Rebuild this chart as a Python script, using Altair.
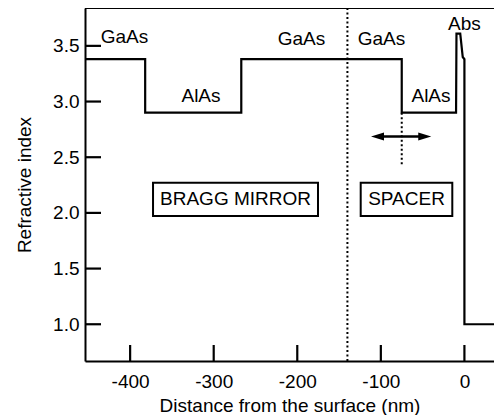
import altair as alt
import pandas as pd

# refractive-index profile (nm, n)
profile_x = [-454, -382, -382, -267, -267, -75, -75, -10, -9.5, -5, -2, 0, 0, 45]
profile_n = [3.38, 3.38, 2.90, 2.90, 3.38, 3.38, 2.90, 2.90, 3.61, 3.61, 3.40, 3.38, 1.00, 1.00]

x_ticks = [-400, -300, -200, -100, 0]
y_ticks = [1.0, 1.5, 2.0, 2.5, 3.0, 3.5]

label_text = ["GaAs", "AlAs", "GaAs", "GaAs", "AlAs", "Abs"]
label_x = [-406.7, -315.2, -194.9, -99.2, -40.0, 0.1]
label_y = [3.580, 3.050, 3.562, 3.562, 3.050, 3.696]

box_text = ["BRAGG MIRROR", "SPACER"]
box_x1 = [-372.6, -124.1]
box_x2 = [-175.2, -14.5]
box_y1 = [1.972, 1.972]
box_y2 = [2.271, 2.271]

interface_x = [-140]
spacer_mark_x = [-75]
spacer_mark_y1 = [2.90]
spacer_mark_y2 = [2.425]
arrow_x1 = [-104]
arrow_x2 = [-47]
arrow_y = [2.686]
head_x = [-104.0, -47.5]
head_shape = ["M -1 0 L 1 -0.62 L 1 0.62 Z", "M 1 0 L -1 -0.62 L -1 0.62 Z"]

FONT = "Liberation Sans"
FS = 19
W, H = 409, 353

xs = alt.Scale(domain=[-454, 35.4], nice=False, zero=False)
ys = alt.Scale(domain=[0.67, 3.84], nice=False, zero=False)

prof = pd.DataFrame({"x": profile_x, "n": profile_n, "o": list(range(len(profile_x)))})

line = alt.Chart(prof).mark_line(color="black", strokeWidth=2.2, interpolate="linear", clip=True).encode(
    x=alt.X("x:Q", scale=xs, title="Distance from the surface (nm)",
            axis=alt.Axis(values=x_ticks, ticks=False, grid=False, domainColor="black",
                          domainWidth=2, labelFont=FONT, labelFontSize=FS, labelColor="black",
                          labelPadding=11, labelExpr="datum.value + ''", titleFont=FONT,
                          titleFontSize=FS, titleFontWeight="normal", titleColor="black",
                          titlePadding=5, labelFlush=False)),
    y=alt.Y("n:Q", scale=ys, title="Refractive index",
            axis=alt.Axis(values=y_ticks, ticks=False, grid=False, domainColor="black",
                          domainWidth=2, labelFont=FONT, labelFontSize=FS, labelColor="black",
                          labelPadding=6, format=".1f", titleFont=FONT, titleFontSize=FS,
                          titleFontWeight="normal", titleColor="black", titlePadding=18,
                          labelFlush=False)),
    order="o:Q",
)

xt = alt.Chart(pd.DataFrame({"t": x_ticks})).mark_rule(color="black", strokeWidth=2.2).encode(
    x=alt.X("t:Q", scale=xs), y=alt.value(H - 16), y2=alt.value(H))
yt = alt.Chart(pd.DataFrame({"t": y_ticks})).mark_rule(color="black", strokeWidth=2.2).encode(
    y=alt.Y("t:Q", scale=ys), x=alt.value(0), x2=alt.value(16))

top = alt.Chart(pd.DataFrame({"a": [0]})).mark_rule(color="black", strokeWidth=2).encode(
    y=alt.value(0), x=alt.value(0), x2=alt.value(W))

labels = alt.Chart(pd.DataFrame({"t": label_text, "x": label_x, "y": label_y})).mark_text(
    font=FONT, fontSize=FS, color="black", align="center", baseline="middle").encode(
    x=alt.X("x:Q", scale=xs), y=alt.Y("y:Q", scale=ys), text="t:N")

boxdf = pd.DataFrame({"t": box_text, "x1": box_x1, "x2": box_x2, "y1": box_y1, "y2": box_y2,
                      "xc": [(a + b) / 2 for a, b in zip(box_x1, box_x2)],
                      "yc": [(a + b) / 2 for a, b in zip(box_y1, box_y2)]})
boxes = alt.Chart(boxdf).mark_rect(fill=None, stroke="black", strokeWidth=2).encode(
    x=alt.X("x1:Q", scale=xs), x2="x2:Q", y=alt.Y("y1:Q", scale=ys), y2="y2:Q")
boxtext = alt.Chart(boxdf).mark_text(font=FONT, fontSize=FS, color="black", align="center",
                                     baseline="middle").encode(
    x=alt.X("xc:Q", scale=xs), y=alt.Y("yc:Q", scale=ys), text="t:N")

iface = alt.Chart(pd.DataFrame({"x": interface_x})).mark_rule(
    color="black", strokeWidth=2, strokeDash=[2, 2.5]).encode(x=alt.X("x:Q", scale=xs))

spm = alt.Chart(pd.DataFrame({"x": spacer_mark_x, "y1": spacer_mark_y1, "y2": spacer_mark_y2})).mark_rule(
    color="black", strokeWidth=2, strokeDash=[2, 2.5]).encode(
    x=alt.X("x:Q", scale=xs), y=alt.Y("y1:Q", scale=ys), y2="y2:Q")

arrow = alt.Chart(pd.DataFrame({"x1": arrow_x1, "x2": arrow_x2, "y": arrow_y})).mark_rule(
    color="black", strokeWidth=2.5).encode(
    x=alt.X("x1:Q", scale=xs), x2="x2:Q", y=alt.Y("y:Q", scale=ys))

heads = alt.Chart(pd.DataFrame({"x": head_x, "y": arrow_y * 2, "s": head_shape})).mark_point(
    filled=True, color="black", opacity=1, size=169, strokeWidth=0).encode(
    x=alt.X("x:Q", scale=xs), y=alt.Y("y:Q", scale=ys),
    shape=alt.Shape("s:N", scale=None))

chart = alt.layer(iface, spm, line, boxes, boxtext, labels, arrow, heads, xt, yt, top).properties(
    width=W, height=H,
    autosize=alt.AutoSizeParams(type="none"),
    padding={"left": 77, "top": 0, "right": 0, "bottom": 54},
).configure_view(stroke=None).configure(background="white")

chart.save("out.html", embed_options={"renderer": "svg", "actions": False})
